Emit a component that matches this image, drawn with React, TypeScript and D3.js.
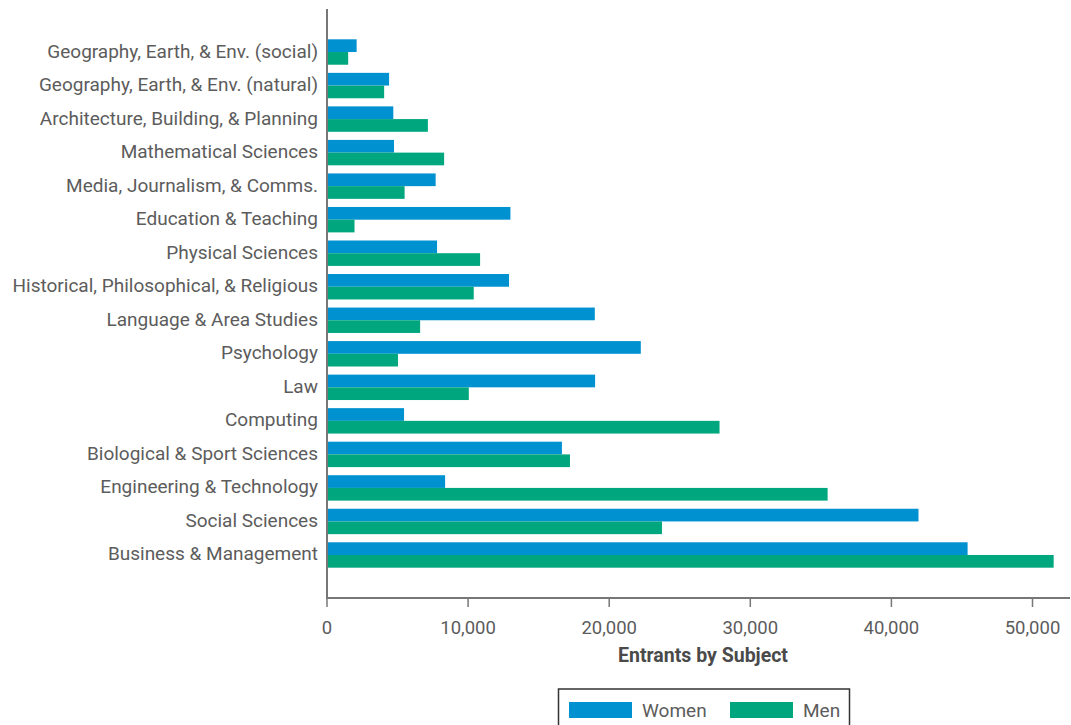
import React from "react";
import * as d3 from "d3";

const categories = [
  "Geography, Earth, & Env. (social)",
  "Geography, Earth, & Env. (natural)",
  "Architecture, Building, & Planning",
  "Mathematical Sciences",
  "Media, Journalism, & Comms.",
  "Education & Teaching",
  "Physical Sciences",
  "Historical, Philosophical, & Religious",
  "Language & Area Studies",
  "Psychology",
  "Law",
  "Computing",
  "Biological & Sport Sciences",
  "Engineering & Technology",
  "Social Sciences",
  "Business & Management",
];

const women = [2100, 4400, 4700, 4750, 7700, 13000, 7800, 12900, 18980, 22240, 19000, 5460, 16650, 8370, 41920, 45400];
const men = [1500, 4050, 7150, 8300, 5500, 1950, 10850, 10400, 6600, 5030, 10050, 27820, 17220, 35480, 23740, 51500];

const seriesNames = ["Women", "Men"];
const seriesColors = ["#0091d0", "#00a77e"];
const xTicks = [0, 10000, 20000, 30000, 40000, 50000];
const xTitle = "Entrants by Subject";

const W = 1071;
const H = 725;
const left = 327;
const top = 9;
const bottom = 598;
const FONT = "Roboto, 'Noto Sans', sans-serif";
const TEXT = "#5c5c5c";

export default function App() {
  const x = d3.scaleLinear().domain([0, 50000]).range([left, left + 705.5]);
  const y = d3
    .scaleBand<string>()
    .domain(categories)
    .range([top, bottom])
    .paddingInner(0.242)
    .paddingOuter(0.904);
  const inner = d3.scaleBand<string>().domain(seriesNames).range([0, y.bandwidth()]);
  const series = [women, men];
  const fmt = d3.format(",");

  return (
    <svg
      width={W}
      height={H}
      style={{ position: "absolute", left: 0, top: 0, background: "#fff" }}
    >
      {categories.map((c, i) => (
        <g key={c}>
          {series.map((vals, s) => (
            <rect
              key={s}
              x={x(0)}
              y={(y(c) as number) + (inner(seriesNames[s]) as number)}
              width={x(vals[i]) - x(0)}
              height={inner.bandwidth()}
              fill={seriesColors[s]}
            />
          ))}
          <text
            x={left - 9}
            y={(y(c) as number) + y.bandwidth() / 2 - 1}
            textAnchor="end"
            dominantBaseline="central"
            fontFamily={FONT}
            fontSize={19}
            fill={TEXT}
          >
            {c}
          </text>
        </g>
      ))}
      {/* axes */}
      <line x1={left} x2={left} y1={top} y2={bottom} stroke="#777" strokeWidth={2} />
      <line x1={left - 1} x2={1070} y1={bottom} y2={bottom} stroke="#777" strokeWidth={2} />
      {xTicks.map((t) => (
        <g key={t}>
          <line x1={x(t)} x2={x(t)} y1={bottom} y2={bottom + 9} stroke="#777" strokeWidth={1.5} />
          <text
            x={x(t)}
            y={bottom + 30}
            textAnchor="middle"
            dominantBaseline="central"
            fontFamily={FONT}
            fontSize={18.5}
            fill={TEXT}
          >
            {fmt(t)}
          </text>
        </g>
      ))}
      <text
        x={703}
        y={655}
        textAnchor="middle"
        dominantBaseline="central"
        fontFamily={FONT}
        fontSize={19.5}
        fontWeight="bold"
        fill="#4a4a4a"
      >
        {xTitle}
      </text>
      {/* legend */}
      <rect x={558.5} y={689} width={291} height={50} fill="#fff" stroke="#333" strokeWidth={1.5} />
      {seriesNames.map((n, i) => {
        const sx = i === 0 ? 569 : 730;
        return (
          <g key={n}>
            <rect x={sx} y={702} width={63} height={16} fill={seriesColors[i]} />
            <text
              x={sx + 73}
              y={710}
              dominantBaseline="central"
              fontFamily={FONT}
              fontSize={19}
              fill={TEXT}
            >
              {n}
            </text>
          </g>
        );
      })}
    </svg>
  );
}
